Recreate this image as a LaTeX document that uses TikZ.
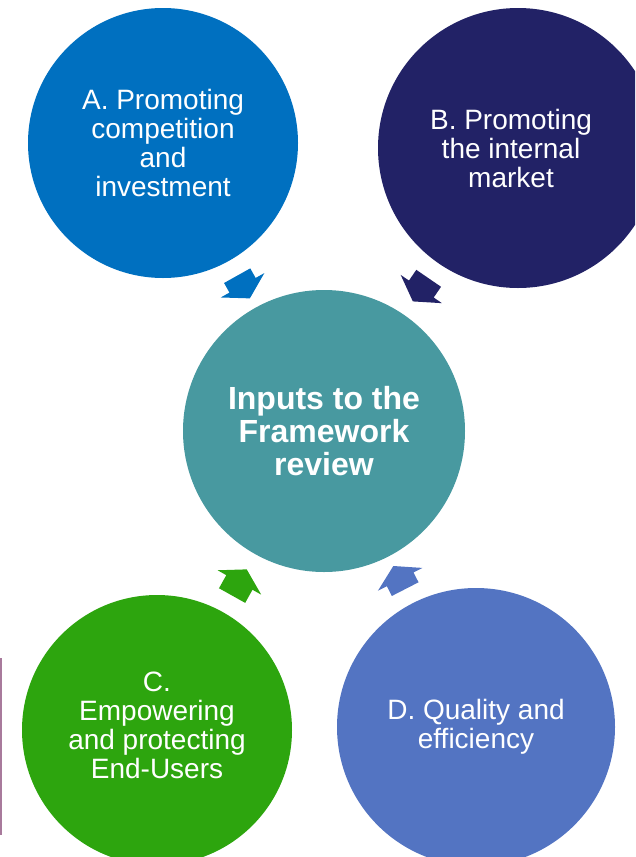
\documentclass[tikz,border=0pt]{standalone}
\usepackage{fontspec}
\setmainfont{Liberation Sans}
\usetikzlibrary{calc}
\definecolor{cA}{HTML}{0070C0}
\definecolor{cB}{HTML}{222266}
\definecolor{cM}{HTML}{4899A0}
\definecolor{cC}{HTML}{2DA50E}
\definecolor{cD}{HTML}{5374C2}
\definecolor{cLine}{HTML}{A87A9C}
\tikzset{
  circ/.style={circle, fill=#1, text=white, inner sep=0pt, align=center,
    font=\fontsize{28}{29}\selectfont},
  plaintext/.style={text=white, inner sep=0pt, align=center,
    font=\fontsize{28}{29}\selectfont},
  hubtext/.style={font=\bfseries\fontsize{32}{33}\selectfont},
}
\newcommand{\blockarrow}[5]{%
  \coordinate (T) at ($(#2)!#4!(#3)$);
  \coordinate (P) at ($(#2)!#5!(#3)$);
  \coordinate (H) at ($(P)!15pt!(T)$);
  \fill[#1] ($(T)!15pt!90:(P)$) -- ($(H)!15pt!-90:(T)$) -- ($(H)!25pt!-90:(T)$)
    -- (P) -- ($(H)!25pt!90:(T)$) -- ($(H)!15pt!90:(T)$) -- ($(T)!15pt!-90:(P)$) -- cycle;
}
\begin{document}
\begin{tikzpicture}[x=1pt,y=-1pt]
\useasboundingbox (0,0) rectangle (635,857);
\clip (0,0) rectangle (635,857);
\node[circ=cA, minimum size=270pt] (A) at (163,143) {A. Promoting\\competition\\and\\investment};
\node[circ=cB, minimum size=280pt] (B) at (518,148) {};
\node[plaintext] (Bt) at (511,148) {B. Promoting\\the internal\\market};
\node[circ=cM, minimum size=282pt, hubtext] (M) at (324,431) {Inputs to the\\Framework\\review};
\node[circ=cC, minimum size=270pt] (C) at (157,730) {};
\node[plaintext] (Ct) at (157,725) {C.\\Empowering\\and protecting\\End-Users};
\node[circ=cD, minimum size=278pt] (D) at (476,727) {D. Quality and\\efficiency};
\blockarrow{cA}{A}{M}{152pt}{178pt}
\blockarrow{cB}{B}{M}{158pt}{186pt}
\blockarrow{cC}{C}{M}{154pt}{184pt}
\blockarrow{cD}{D}{M}{155pt}{181pt}
\coordinate (l1) at (1,658);
\coordinate (l2) at (1,835);
\draw[cLine, line width=2pt] (l1) -- (l2);
\end{tikzpicture}
\end{document}
